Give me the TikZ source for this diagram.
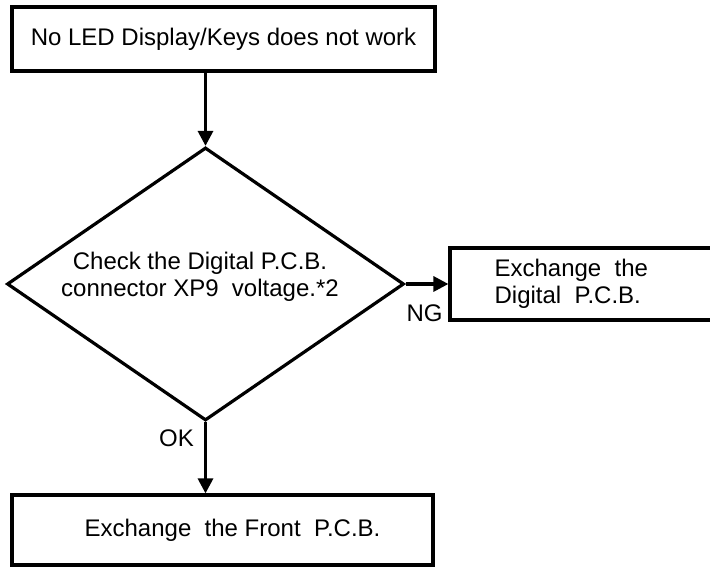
\documentclass[tikz,border=0pt]{standalone}
\usepackage{fontspec}
\setmainfont{Liberation Sans}
\usetikzlibrary{arrows.meta,shapes.geometric}

\begin{document}
\begin{tikzpicture}[x=1pt,y=1pt,line width=3.2pt,
    every node/.style={font=\fontsize{24}{27}\selectfont,inner sep=0pt},
    stepbox/.style={draw,rectangle},
    checkbox/.style={draw,diamond,minimum width=397pt,minimum height=273pt}]
    \useasboundingbox (0,0) rectangle (710,567);

    \node[stepbox,minimum width=423pt,minimum height=64pt] (1) at (223.5,528) {No LED Display/Keys does not work};
    \node[checkbox] (2) at (205.5,283) {};
    \node[align=center] (2t) at (200,290) {Check the Digital P.C.B.\\connector XP9\ \ voltage.*2};
    \node[stepbox,minimum width=262pt,minimum height=72pt] (3) at (581,283) {};
    \node[anchor=west,align=left] (3t) at (493,283) {Exchange\ \ the\\Digital\ \ P.C.B.};
    \node[stepbox,minimum width=421pt,minimum height=70pt] (4) at (222.5,37) {\hspace*{20pt}Exchange\ \ the Front\ \ P.C.B.};
    \node (ng) at (424.5,254) {NG};
    \node (ok) at (176.5,129) {OK};

    \path[-{Triangle[length=15pt,width=15pt]},black]
    (2.north |- 1.south) edge (2.north)
    (2.east) edge (3.west)
    (2.south) edge (2.south |- 4.north);

  \end{tikzpicture}
\end{document}
